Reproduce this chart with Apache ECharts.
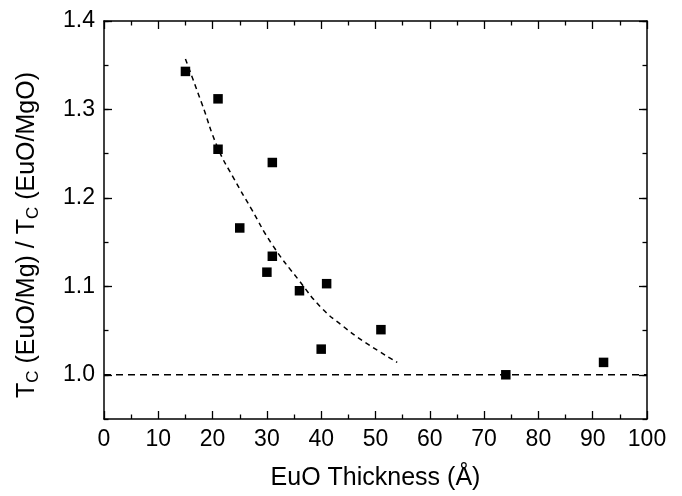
<!DOCTYPE html>
<html>
<head>
<meta charset="utf-8">
<script src="https://cdn.jsdelivr.net/npm/echarts@6/dist/echarts.min.js"></script>
<style>
  html, body { margin: 0; padding: 0; background: #fff; }
  #chart { width: 682px; height: 496px; }
</style>
</head>
<body>
<div id="chart"></div>
<script>
// measured points: EuO thickness (Å) vs Tc ratio
const thickness = [15, 21, 21, 31, 25, 31, 30, 36, 41, 40, 51, 74, 92];
const tcRatio   = [1.343, 1.312, 1.255, 1.240, 1.166, 1.134, 1.116, 1.095, 1.103, 1.029, 1.051, 1.000, 1.014];

// dashed guide curve
const fitX = [15, 18, 21, 24, 27, 31, 36, 40, 44, 48, 54];
const fitY = [1.357, 1.307, 1.256, 1.221, 1.189, 1.147, 1.106, 1.076, 1.055, 1.037, 1.014];

// bulk reference line
const refX = [0, 100];
const refY = [1.0, 1.0];

const yMajor = [1.0, 1.1, 1.2, 1.3, 1.4];

const FONT = '"Liberation Sans", Arial, sans-serif';
const AX = { lineStyle: { color: '#000', width: 1.5 } };

const chart = echarts.init(document.getElementById('chart'), null, { renderer: 'canvas' });

const xBase = {
  type: 'value', min: 0, max: 100, interval: 10,
  axisLine: AX,
  axisTick: { inside: true, length: 8, lineStyle: { color: '#000', width: 1.3 } },
  minorTick: { show: true, splitNumber: 2, length: 4.5, lineStyle: { color: '#000', width: 1.3 } },
  splitLine: { show: false },
};
const yMajorBase = {
  type: 'value', min: 0.95, max: 1.4,
  axisLine: AX,
  axisTick: { inside: true, length: 8, customValues: yMajor, lineStyle: { color: '#000', width: 1.3 } },
  splitLine: { show: false },
};
const yMinorBase = {
  type: 'value', min: 0.95, max: 1.4, interval: 0.05,
  axisLine: { show: false },
  axisTick: { inside: true, length: 4.5, lineStyle: { color: '#000', width: 1.3 } },
  axisLabel: { show: false },
  splitLine: { show: false },
};

chart.setOption({
  backgroundColor: '#fff',
  animation: false,
  textStyle: { fontFamily: FONT },
  grid: { left: 104, right: 35, top: 21, bottom: 75 },
  xAxis: [
    Object.assign({}, xBase, {
      position: 'bottom',
      axisLabel: { color: '#000', fontSize: 23, fontFamily: FONT, margin: 9 },
      name: 'EuO Thickness (Å)', nameLocation: 'middle', nameGap: 47,
      nameTextStyle: { color: '#000', fontSize: 25, fontFamily: FONT },
    }),
    Object.assign({}, xBase, { position: 'top', axisLabel: { show: false } }),
  ],
  yAxis: [
    Object.assign({}, yMajorBase, {
      position: 'left',
      axisLabel: {
        color: '#000', fontSize: 23, fontFamily: FONT, margin: 9,
        customValues: yMajor, formatter: (v) => v.toFixed(1),
      },
      name: '{t|T}{s|C}{t| (EuO/Mg) / T}{s|C}{t| (EuO/MgO)}',
      nameLocation: 'middle', nameGap: 62, nameRotate: 90,
      nameTextStyle: {
        color: '#000', fontFamily: FONT, padding: [0, 30, 0, 0],
        rich: {
          t: { fontSize: 25, color: '#000', fontFamily: FONT, lineHeight: 30 },
          s: { fontSize: 17, color: '#000', fontFamily: FONT, lineHeight: 30, verticalAlign: 'bottom', padding: [9, 0, 0, 0] },
        },
      },
    }),
    Object.assign({}, yMinorBase, { position: 'left' }),
    Object.assign({}, yMajorBase, { position: 'right', axisLabel: { show: false } }),
    Object.assign({}, yMinorBase, { position: 'right' }),
  ],
  series: [
    {
      type: 'line', xAxisIndex: 0, yAxisIndex: 0,
      data: refX.map((x, i) => [x, refY[i]]),
      symbol: 'none', silent: true,
      lineStyle: { color: '#000', width: 1.5, type: [7, 5] },
    },
    {
      type: 'line', xAxisIndex: 0, yAxisIndex: 0,
      data: fitX.map((x, i) => [x, fitY[i]]),
      smooth: true, symbol: 'none', silent: true,
      lineStyle: { color: '#000', width: 1.5, type: [5, 4] },
    },
    {
      type: 'scatter', xAxisIndex: 0, yAxisIndex: 0,
      data: thickness.map((x, i) => [x, tcRatio[i]]),
      symbol: 'rect', symbolSize: 9.5,
      itemStyle: { color: '#000', opacity: 1 },
    },
  ],
});
</script>
</body>
</html>
